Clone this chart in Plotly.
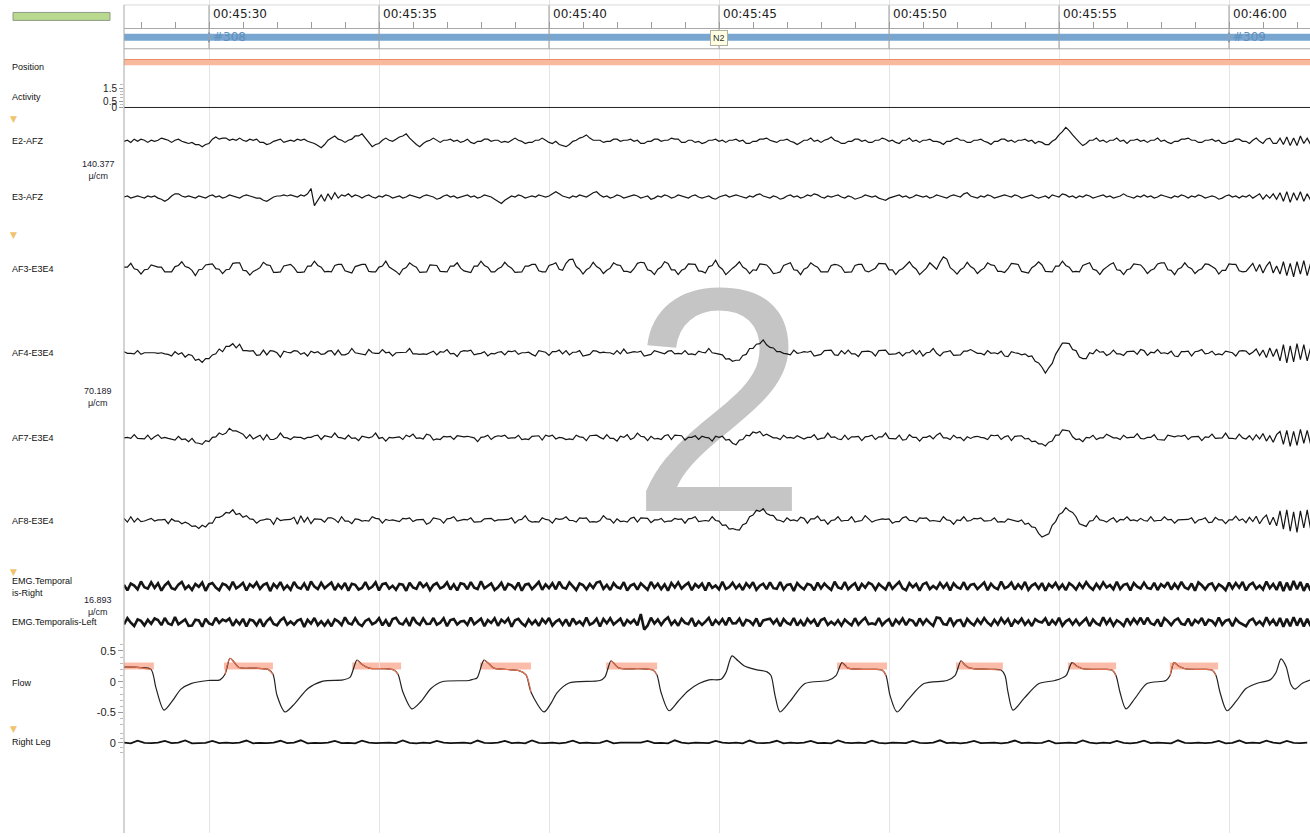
import plotly.graph_objects as go

# ---------------- geometry / scales ----------------
W, H = 1310, 837
LEFT = 124
PX_PER_SEC = 34.0
T0 = 27.5                                  # seconds after 00:45:00 at left edge
T1 = T0 + (W - LEFT) / PX_PER_SEC
PX_PER_CM = 37.8

# ---------------- data ----------------
MAJOR_TICKS = [30, 35, 40, 45, 50, 55, 60]
MINOR_TICKS = list(range(28, 63))

EPOCH_START = [0, 30, 60]
EPOCH_NUM = [307, 308, 309]
EPOCH_STAGE = ["N2", "N2", "N2"]
EPOCH_LEN = 30

POSITION_START = [0]
POSITION_END = [90]

ACTIVITY_T = [27.5, 32.5, 37.5, 42.5, 47.5, 52.5, 57.5, 62.5]
ACTIVITY = [0.0, 0.0, 0.0, 0.0, 0.0, 0.0, 0.0, 0.0]

EEG_DT = 0.1
SCALE_FRONTAL = 140.377   # µV/cm
SCALE_AF = 70.189
SCALE_EMG = 16.893

E2_AFZ = [0, 4, -4, 8, 0, 8, 4, -4, 4, 0,
          4, 12, 8, 4, -4, 4, 8, 0, -4, -8,
          -4, -12, -12, -20, -12, -8, 8, 16, 8, 12,
          12, 4, 8, 4, 12, 4, 0, 8, 4, 8,
          -4, -4, -12, -8, 0, 4, 8, -4, 0, 4,
          0, 8, 4, 8, 0, -4, -8, -16, -24, -12,
          4, 12, 20, 8, 4, -4, 4, 8, 20, 20,
          28, 12, -4, -20, -12, -8, 4, 12, 4, 0,
          8, 16, 20, 28, 12, 0, -12, -20, -8, 0,
          4, 12, 4, -4, 4, 4, 8, 0, 4, -4,
          0, 8, -4, -8, 0, 0, 8, 8, 0, 4,
          4, -4, 0, -4, 4, 12, 4, 0, -8, -4,
          -4, 4, 4, 12, 4, -4, -8, 0, -12, -16,
          -20, -12, 0, 4, 12, 16, 24, 12, 4, 4,
          4, -4, 0, 0, 8, 8, 0, 4, 4, 8,
          0, 4, -8, -8, 0, 0, 8, 8, 0, 4,
          4, 12, 8, 8, -4, -4, 4, 4, -4, 0,
          -8, -4, 4, 4, 8, 0, 4, -4, 4, 4,
          8, 0, 4, -8, -8, 0, 0, 8, 8, 12,
          4, 0, -4, 4, 4, 8, 0, -4, -12, -4,
          4, 4, 12, 0, 4, -4, 4, 8, 16, 4,
          0, -8, -8, 0, 0, 8, 8, 0, 4, -4,
          -4, 4, 4, 12, 8, 0, 4, -4, -8, 4,
          4, 12, 0, 4, -4, 4, 4, 8, 0, 0,
          -4, -12, 0, 0, 8, 12, 4, 4, -4, -4,
          4, 4, 8, 0, -4, -12, 0, 0, 8, 8,
          0, 4, -4, 4, 4, 8, 0, 4, -8, 0,
          -4, -12, -12, 0, 8, 24, 36, 52, 40, 24,
          8, -4, -16, -8, 4, 4, 12, 0, 4, -4,
          4, 4, 12, 0, 4, -8, 4, 4, 8, 0,
          4, -4, 4, 4, 12, 0, 4, -4, -8, 0,
          0, 8, 8, 12, 4, 4, -4, -4, 4, 4,
          8, 0, 4, -8, -8, 0, 0, 8, 8, 0,
          0, -8, 4, 12, 0, -8, 8, 12, -8, -8,
          12, -12, 16, -16, 12, -16, 20, -8, 12, -12]

E3_AFZ = [0, 4, -4, 0, 4, 0, -4, 4, 0, 4,
          -4, -8, -16, -8, 4, 12, 12, 4, 0, 4,
          0, -4, 4, 0, -4, 4, 8, 0, 4, -4,
          0, 8, 4, 0, -4, 4, 8, 4, 0, -4,
          -4, -12, -16, -8, 0, 4, 4, 8, 4, 8,
          4, 0, 8, 4, 12, 32, -32, -12, 8, -16,
          12, -8, 16, -4, 8, 4, 12, 0, 8, 4,
          -4, 4, 8, 0, -4, 4, 0, 8, 4, -4,
          0, 4, -4, 0, 8, 4, 0, -4, 4, 8,
          4, 0, -8, -4, 4, 8, 0, 4, -4, 0,
          4, 8, 0, 4, -4, 0, 8, 4, 0, -8,
          -16, -24, -12, -4, 4, 0, 8, 4, -4, 0,
          4, 0, 8, 4, 0, 4, 12, 20, 12, 4,
          0, -4, 4, 0, 8, 4, 0, 8, 16, 20,
          8, 0, 4, -4, 0, 8, 4, -4, 0, 4,
          8, 4, -4, 0, 4, -8, -4, 4, 0, 8,
          4, -4, 0, 8, 4, 0, -4, 4, 8, 0,
          -4, 0, 4, -4, -8, 0, 4, 8, 0, 4,
          8, 4, 0, -4, 4, 0, 8, 12, 4, 0,
          -4, 4, 0, -8, -4, 4, 8, 0, 4, -4,
          0, 8, 4, 12, 8, 0, -4, 4, 0, 4,
          8, 0, -4, 4, 0, -8, -4, 0, 8, 4,
          0, 4, -4, -8, -12, -4, 0, 4, 8, 0,
          4, -4, 0, 8, 4, 0, 4, -4, 0, 8,
          4, 0, -4, 4, 8, 4, 0, 12, 16, 4,
          0, -4, 4, 0, 8, 4, -4, 0, 4, 8,
          4, 0, 8, 4, -4, 0, 4, 8, 0, -4,
          0, 4, -4, 8, 4, 0, 12, 8, 0, 4,
          -4, 4, 0, 8, 4, -4, 0, 4, 8, 0,
          4, -4, 0, 4, 12, 4, 0, -4, 4, 0,
          8, 0, 4, -4, 0, 8, 4, 0, -4, 4,
          0, 8, 4, -4, 4, 0, 8, 4, -4, 0,
          4, 0, -8, -4, 4, 8, 0, 4, -4, 4,
          0, 8, -4, 4, 12, -8, 8, -4, 12, -8,
          16, -16, 20, -20, 16, -12, 20, -16, 12, -12]

AF3_E3E4 = [3, 3, 10, 0, -2, -10, -2, -1, 7, 5,
            3, 3, -6, -6, -6, 4, 6, 13, 4, 2,
            -3, -13, -2, -1, 7, 8, 9, 0, -1, -9,
            -2, -1, 10, 11, 11, -3, -4, -12, -5, -2,
            2, 12, 7, 6, -7, -7, -6, 5, 6, 8,
            2, -7, -7, -6, 5, 5, 14, 6, 3, -6,
            -5, -6, 6, 8, 8, -4, -6, -8, 4, 6,
            8, 8, -5, -6, -6, 3, 5, 14, 3, -1,
            -5, -11, -1, 2, 11, 6, 3, -7, -6, -6,
            7, 7, 6, -5, -5, -6, 5, 5, 11, 1,
            -4, -5, -7, 5, 5, 14, 6, 3, -6, -6,
            0, 3, 12, 5, 1, -7, -7, -6, 5, 5,
            8, 8, -4, -6, -6, 6, 8, 11, -1, -3,
            10, 17, 18, 4, -1, -10, -2, 2, 12, 4,
            0, -9, -3, 1, 11, 7, 6, -5, -5, -7,
            0, 10, 12, 11, -2, -4, -11, -1, 3, 13,
            10, -2, -2, -11, -3, 0, 9, 8, 8, -4,
            -5, -8, 4, 6, 16, 4, -1, -11, -4, 1,
            6, 13, 3, -1, -9, -2, -3, 9, 8, 7,
            0, -9, -8, -6, 6, 8, 11, -2, -3, -11,
            -1, 2, 11, 6, 3, -6, -6, -6, 6, 8,
            7, 3, -7, -6, -6, 6, 8, 8, -4, -6,
            -2, 1, 10, 10, 9, -2, -2, -11, -3, 0,
            6, 13, 4, -1, -11, -4, 1, 11, 4, -1,
            12, 22, 18, 2, -3, -10, -2, 2, 12, 4,
            0, -9, -3, 1, 11, 7, 6, -5, -5, -7,
            0, 10, 9, 8, -5, -7, -8, 2, 6, 13,
            7, -5, -5, -6, 5, 5, 14, 6, 3, -6,
            -5, -6, 6, 8, 11, -1, -3, -11, -2, 3,
            8, 11, -2, -3, -11, -2, 0, 9, 8, 7,
            0, -9, -3, 0, 9, 11, 11, -2, -3, -11,
            -1, 2, 11, 3, 0, -9, -3, 0, 9, 8,
            4, 0, -10, -3, -3, 9, 8, 8, -4, -6,
            -5, 3, 10, -5, 8, -8, 5, 13, -8, 5,
            -10, 13, -13, 10, -15, 13, -10, 15, -13, 10]

AF4_E3E4 = [3, 0, 0, -1, 5, -2, 1, 1, 2, 1,
            0, 1, -1, -2, -5, 3, -2, 1, -7, -2,
            -4, -13, -11, -17, -10, -10, -3, -1, 8, 3,
            13, 13, 18, 10, 17, 5, 5, 4, 5, -4,
            -3, 6, -3, 5, 4, 1, -7, 4, 2, 1,
            5, 4, -2, 1, -5, 4, 1, 3, -2, -1,
            4, 5, -3, 6, -3, -3, 0, 9, 1, 0,
            -2, -3, 7, 1, 0, 0, 7, 1, 2, -5,
            1, 1, 2, 2, 9, -1, -1, -2, -1, -2,
            1, 4, -3, 3, 2, 7, -1, 0, -6, 3,
            5, 4, 6, -3, -1, 0, 3, -5, 0, -1,
            2, 3, -3, 4, 3, 5, -2, 1, 1, 2,
            -2, -5, 5, 3, 2, -4, 3, 3, 6, -1,
            5, -3, 2, 2, 5, -5, -3, -2, 5, 4,
            1, 2, 1, 1, -2, 5, -1, 8, 0, 1,
            3, 2, 4, -5, -3, -2, 5, 3, 2, -1,
            4, 5, -1, 0, -1, 5, -2, -1, -3, 4,
            2, 1, 9, 1, 0, -2, -3, -11, -10, -15,
            -13, -13, -4, -2, 9, 9, 17, 18, 25, 16,
            11, 10, 3, 3, 0, -1, -3, 6, 0, 1,
            3, 2, 4, -5, -3, -2, 5, 5, 6, -3,
            -4, 5, -1, 6, -1, -1, -6, 3, 3, 4,
            2, -5, 5, 5, 6, -2, -1, -1, 2, -5,
            1, 1, 6, -2, 5, -5, 1, 2, 9, 0,
            -5, 2, 3, 5, -4, -3, -3, 4, 4, 7,
            3, 0, 0, -3, 5, 0, 1, -1, 4, -5,
            -6, 3, 1, 0, -3, -1, -6, -5, -15, -18,
            -26, -37, -27, -19, -2, 8, 19, 19, 18, 7,
            5, -7, -10, -10, 1, -1, 7, 2, 3, -4,
            -1, 6, -1, -1, -4, 3, 3, 4, -2, 7,
            5, -4, 2, 1, 7, 0, 1, -1, 4, -5,
            -6, 3, 3, 4, -5, 3, 4, 7, -1, 0,
            4, -3, -1, -3, 4, 2, 1, -5, 4, 5,
            4, -2, 2, 8, -4, 6, -8, 10, -6, 8,
            -14, 16, -18, 14, -16, 18, -12, 16, -14, 10]

AF7_E3E4 = [0, 1, -1, 6, -1, -1, -2, 5, -3, 2,
            6, -1, 1, -1, -2, -4, 3, -3, -2, -7,
            -1, -9, -10, -12, -5, -7, 1, 2, 9, 6,
            9, 18, 13, 13, 10, 7, -1, 6, -2, 1,
            5, -4, 6, -3, -3, 0, 9, 1, 0, -3,
            2, 1, 1, -2, 1, 1, 4, 5, -3, 4,
            2, 1, 9, 1, 0, -2, 5, -1, 0, -5,
            3, 1, 0, 2, 9, -1, 1, -6, 1, 0,
            1, 2, -3, 5, 2, 7, -1, 0, -2, 7,
            5, -4, -2, -3, 3, 2, 3, -3, 4, 3,
            2, 3, 1, 0, -7, 1, 2, 5, -3, 2,
            4, 3, 5, -1, 0, 0, 5, -3, -2, -3,
            3, 3, 4, -4, 5, 3, 5, -2, 1, 0,
            -3, -2, -3, 5, 2, 1, -5, 4, 4, 5,
            1, -2, 6, -1, -1, -6, 3, 1, 6, -3,
            0, 9, 3, 2, -5, 3, -2, -1, -3, 4,
            6, -3, 5, 5, 4, -4, 1, 1, 4, -3,
            3, 1, 0, -6, 3, 1, 3, -4, -3, -10,
            -13, -4, -3, 5, 4, 11, 9, 12, 4, 7,
            3, 0, 0, -3, 5, 0, 1, -1, 4, 1,
            -2, 1, 1, 6, -3, -1, 0, 9, 1, 2,
            -2, -3, 5, -3, 2, 2, 3, -5, 2, 3,
            5, -3, 2, 2, 9, -1, -1, -2, 5, -4,
            -3, 6, 1, 1, -6, 1, 1, 4, -2, 5,
            9, 0, 0, -3, 5, 0, 1, -5, 2, -1,
            2, 3, 1, 0, -3, 5, 4, 5, -3, 2,
            4, -5, 3, 3, 4, -2, -1, -7, -6, -11,
            -11, -15, -8, -6, 5, 5, 15, 14, 13, 2,
            -3, -2, -7, 1, 0, 5, -3, 0, 0, 7,
            3, 0, 0, -3, 5, 0, 1, 1, 8, -1,
            -2, 1, 1, 6, -3, -3, -4, 5, 3, 2,
            4, 3, 5, -3, 2, 2, 3, -5, 2, 1,
            7, -1, 0, 0, 9, -1, -1, -2, 7, 0,
            -2, 4, -4, 6, -2, 8, -6, 4, -8, 6,
            12, -12, 14, -16, 12, -14, 16, -10, 14, -12]

AF8_E3E4 = [4, -3, 7, -3, 4, -2, -1, 1, 4, -1,
            1, 1, 2, -6, 3, -1, -1, -6, -3, -6,
            -11, -10, -15, -9, -12, -5, -5, 6, 6, 9,
            15, 14, 20, 11, 13, 6, 9, 3, 2, -5,
            0, 1, 3, 2, -7, 5, 0, 1, 1, 2,
            6, -7, 9, -3, 6, -6, 3, 3, 2, -3,
            5, 5, 2, -4, 7, -1, -1, -6, 3, 2,
            -1, 0, -1, 7, 4, 3, -5, 2, 0, 1,
            -1, -2, 4, 3, 5, -2, 1, 1, 2, -7,
            -4, 5, 3, 2, -5, 3, 4, 7, -1, 0,
            2, 1, 5, -3, -2, -2, 3, 3, 4, -1,
            1, 1, 2, 2, 5, -5, 1, 2, 9, 0,
            -3, -2, -3, 5, 2, 1, -5, 4, 2, 3,
            7, 0, 0, -3, 5, 4, 5, -3, -2, -3,
            0, 9, 3, 2, -5, 3, -2, -1, -3, 4,
            6, -3, 5, 5, 4, -4, 1, 1, 4, -3,
            -1, -1, 4, 2, 3, -5, 3, 4, 7, -2,
            -1, 0, -1, 7, 0, -1, -9, -8, -16, -15,
            -17, -18, -8, -5, 7, 10, 19, 17, 22, 13,
            10, 9, 1, 0, -3, 5, 0, 1, -1, 6,
            4, -5, 3, 3, 8, 0, 1, -7, 0, 1,
            7, -1, 0, 0, 7, -3, -1, 0, 9, 2,
            -3, 0, 1, 3, 2, 3, -5, -2, -2, 5,
            7, 0, 0, -3, 5, 4, 5, -1, 0, -1,
            -2, 7, 1, 0, -7, 1, 0, 7, -1, 0,
            4, 3, 5, -1, 0, 0, 5, -3, -2, -3,
            3, 1, 0, -2, 1, -7, -5, -12, -13, -24,
            -31, -28, -25, -9, -2, 11, 15, 24, 18, 15,
            7, -6, -8, -11, -1, 0, 9, 1, 0, -3,
            2, 5, -3, 2, 1, 7, 0, 1, -1, 4,
            0, -1, 7, -1, 0, 0, 7, 1, 2, -5,
            1, 1, 2, 2, 5, -5, 1, 2, 5, -4,
            -3, 6, 1, 1, -6, 1, 1, 8, 0, 3,
            -4, 6, -2, 8, -6, 4, 10, -8, 6, -10,
            18, -16, 20, -20, 16, -22, 18, -14, 20, -16]

EMG_DT = 0.1
EMG_RIGHT = [0.6, -1.9, 1.2, 0.3, -1.4, 2.1, -0.5, -1.1, 1.7, -0.8,
             1.3, -2.0, 0.4, 1.8, -0.9, -1.5, 0.7, 1.9, -1.2, 0.2,
             -1.7, 1.0, -0.3, 1.6, -2.1, 0.8, 1.4, -0.6, -1.8, 1.1,
             0.5, -1.3, 2.0, -1.0, 0.1, 1.5, -1.9, 0.9, -0.4, 1.7,
             -1.2, 0.6, 1.3, -2.2, 1.0, -0.7, 1.8, -1.4, 0.3, -1.6,
             1.9, -0.5, -1.1, 1.2, -1.8, 2.1, -0.2, -1.3, 1.5, -0.9,
             0.4, 1.6, -1.7, 0.8, -1.0, 1.4, -2.0, 1.1, 0.6, -1.5,
             -0.8, 1.8, -1.2, -0.3, 1.7, -1.9, 0.9, 1.3, -1.1, 0.2,
             -1.6, 1.0, 0.7, -2.1, 1.5, -0.6, -1.2, 1.9, -0.4, 1.1,
             -1.8, 0.5, 1.4, -1.0, -0.2, 1.7, -1.5, 0.8, -1.9, 1.3,
             0.9, -1.4, 1.8, -0.7, -1.3, 2.2, -1.0, 0.3, 1.2, -1.7,
             -0.5, 1.5, -1.8, 1.0, 0.4, -1.2, 1.6, -2.0, 0.7, 1.1,
             -1.3, 0.2, 1.9, -1.6, 0.8, -0.9, 1.3, -1.4, 2.0, -0.6,
             -1.1, 1.7, -0.3, -1.8, 1.2, 0.5, -1.5, 1.0, -0.8, 1.6,
             2.1, -1.2, 0.6, -1.7, 1.4, -0.4, -1.0, 1.8, -1.9, 0.3,
             1.0, -1.5, 1.3, -0.2, -1.6, 1.9, -0.7, 1.1, -1.3, 0.8,
             -2.0, 1.4, -0.6, 1.7, -1.1, 0.4, 1.5, -1.8, 0.9, -0.5,
             1.2, -1.9, 1.6, -0.8, 0.3, -1.4, 2.0, -1.2, -0.4, 1.5,
             -1.0, 0.7, -1.7, 1.3, -0.5, 1.8, -1.6, 0.2, 1.1, -1.3,
             1.7, -0.9, -1.2, 1.9, -1.5, 0.6, 0.9, -2.1, 1.4, -0.3,
             -1.4, 1.1, 0.5, -1.8, 1.6, -1.0, 1.2, -0.4, -1.7, 2.0,
             -0.6, -1.1, 1.8, -1.4, 0.2, 1.3, -1.9, 1.0, -0.7, 1.6,
             0.8, -1.6, 1.1, -0.3, -1.5, 1.7, -1.2, 0.5, 1.9, -1.0,
             -1.8, 1.4, -0.5, 1.0, -2.0, 0.9, 1.6, -1.3, 0.1, -1.2,
             1.5, -0.7, 1.2, -1.9, 1.3, -0.4, -1.1, 1.8, -1.6, 0.6,
             1.0, -1.3, 0.4, 1.7, -1.8, 1.1, -0.6, -1.4, 2.1, -0.9,
             -0.2, 1.6, -1.5, 0.8, -1.0, 1.9, -1.7, 0.3, 1.2, -1.1,
             1.4, -2.0, 0.9, -0.5, 1.5, -1.2, 0.7, -1.8, 1.3, 0.2,
             -1.5, 1.2, -0.8, 1.8, -0.3, -1.6, 1.0, -1.1, 1.7, -0.6,
             0.5, -1.4, 2.0, -1.3, 0.6, 1.1, -1.9, 1.4, -0.2, -1.0,
             1.6, -0.8, -1.2, 1.5, -1.7, 0.9, -0.4, 1.8, -1.5, 1.0,
             -1.1, 1.9, -0.6, -1.3, 1.2, -2.0, 1.7, 0.4, -1.4, 0.7,
             1.3, -1.6, 0.8, -0.2, -1.8, 1.6, -1.0, 1.4, -0.7, 1.9,
             -1.9, 0.6, 1.5, -1.1, 0.3, -1.5, 2.1, -0.9, 1.0, -1.7,
             2.0, -2.2, 1.6, -1.8, 2.3, -1.4, 1.9, -2.1, 1.2, -2.0]

EMG_LEFT = [-1.1, 1.7, -0.3, -1.8, 1.2, 0.5, -1.5, 1.0, -0.8, 1.6,
            0.9, -1.4, 1.8, -0.7, -1.3, 2.2, -1.0, 0.3, 1.2, -1.7,
            -1.6, 1.0, 0.7, -2.1, 1.5, -0.6, -1.2, 1.9, -0.4, 1.1,
            0.4, 1.6, -1.7, 0.8, -1.0, 1.4, -2.0, 1.1, 0.6, -1.5,
            1.3, -2.0, 0.4, 1.8, -0.9, -1.5, 0.7, 1.9, -1.2, 0.2,
            -1.2, 0.6, 1.3, -2.2, 1.0, -0.7, 1.8, -1.4, 0.3, -1.6,
            0.6, -1.9, 1.2, 0.3, -1.4, 2.1, -0.5, -1.1, 1.7, -0.8,
            -1.8, 0.5, 1.4, -1.0, -0.2, 1.7, -1.5, 0.8, -1.9, 1.3,
            1.9, -0.5, -1.1, 1.2, -1.8, 2.1, -0.2, -1.3, 1.5, -0.9,
            -0.8, 1.8, -1.2, -0.3, 1.7, -1.9, 0.9, 1.3, -1.1, 0.2,
            0.5, -1.3, 2.0, -1.0, 0.1, 1.5, -1.9, 0.9, -0.4, 1.7,
            -1.7, 1.0, -0.3, 1.6, -2.1, 0.8, 1.4, -0.6, -1.8, 1.1,
            -1.0, 0.7, -1.7, 1.3, -0.5, 1.8, -1.6, 0.2, 1.1, -1.3,
            1.2, -1.9, 1.6, -0.8, 0.3, -1.4, 2.0, -1.2, -0.4, 1.5,
            -2.0, 1.4, -0.6, 1.7, -1.1, 0.4, 1.5, -1.8, 0.9, -0.5,
            1.0, -1.5, 3.6, -3.4, -1.6, 1.9, -0.7, 1.1, -1.3, 0.8,
            2.1, -1.2, 0.6, -1.7, 1.4, -0.4, -1.0, 1.8, -1.9, 0.3,
            -1.3, 0.2, 1.9, -1.6, 0.8, -0.9, 1.3, -1.4, 2.0, -0.6,
            -0.5, 1.5, -1.8, 1.0, 0.4, -1.2, 1.6, -2.0, 0.7, 1.1,
            1.5, -0.7, 1.2, -1.9, 1.3, -0.4, -1.1, 1.8, -1.6, 0.6,
            -1.8, 1.4, -0.5, 1.0, -2.0, 0.9, 1.6, -1.3, 0.1, -1.2,
            0.8, -1.6, 1.1, -0.3, -1.5, 1.7, -1.2, 0.5, 1.9, -1.0,
            -0.6, -1.1, 1.8, -1.4, 0.2, 1.3, -1.9, 1.0, -0.7, 1.6,
            -1.4, 1.1, 0.5, -1.8, 1.6, -1.0, 1.2, -0.4, -1.7, 2.0,
            1.7, -0.9, -1.2, 1.9, -1.5, 0.6, 0.9, -2.1, 1.4, -0.3,
            -1.5, 1.2, -0.8, 1.8, -0.3, -1.6, 1.0, -1.1, 1.7, -0.6,
            1.4, -2.0, 0.9, -0.5, 1.5, -1.2, 0.7, -1.8, 1.3, 0.2,
            -0.2, 1.6, -1.5, 0.8, -1.0, 1.9, -1.7, 0.3, 1.2, -1.1,
            1.0, -1.3, 0.4, 1.7, -1.8, 1.1, -0.6, -1.4, 2.1, -0.9,
            1.3, -1.6, 0.8, -0.2, -1.8, 1.6, -1.0, 1.4, -0.7, 1.9,
            -1.1, 1.9, -0.6, -1.3, 1.2, -2.0, 1.7, 0.4, -1.4, 0.7,
            1.6, -0.8, -1.2, 1.5, -1.7, 0.9, -0.4, 1.8, -1.5, 1.0,
            0.5, -1.4, 2.0, -1.3, 0.6, 1.1, -1.9, 1.4, -0.2, -1.0,
            -1.9, 0.6, 1.5, -1.1, 0.3, -1.5, 2.1, -0.9, 1.0, -1.7,
            1.8, -2.1, 1.5, -1.9, 2.2, -1.6, 1.7, -2.0, 1.4, -1.9]

LEG_DT = 0.2
RIGHT_LEG = [0.02, -0.03, 0.20, 0.01, -0.02, 0.03, 0.18, -0.02, 0.02, 0.22,
             -0.03, 0.02, 0.01, 0.17, -0.02, 0.03, -0.01, 0.02, 0.21, -0.03,
             0.01, -0.02, 0.03, 0.19, -0.01, 0.02, 0.23, -0.03, 0.01, -0.02,
             0.03, 0.18, -0.02, 0.01, -0.03, 0.20, 0.02, -0.01, 0.03, 0.02,
             -0.02, 0.22, 0.01, -0.03, 0.02, -0.01, 0.17, 0.03, -0.02, 0.01,
             0.02, -0.03, 0.21, 0.01, -0.02, 0.03, 0.18, -0.01, 0.02, -0.03,
             0.22, 0.01, -0.02, 0.03, -0.03, 0.02, 0.19, -0.01, 0.03, -0.02,
             0.01, 0.20, -0.03, 0.02, 0.03, -0.01, 0.02, 0.17, -0.02, 0.01,
             -0.03, 0.23, 0.02, -0.03, 0.03, 0.01, -0.02, 0.18, 0.03, -0.01,
             0.02, -0.03, 0.21, 0.01, -0.02, 0.03, 0.19, -0.03, 0.02, -0.01,
             0.03, 0.17, -0.02, 0.01, -0.03, 0.22, 0.02, -0.01, 0.03, -0.02,
             0.20, 0.01, -0.03, 0.03, 0.02, -0.02, 0.18, 0.01, -0.02, 0.03,
             0.23, -0.01, 0.02, -0.03, 0.03, 0.17, -0.02, 0.01, 0.03, -0.03,
             0.02, 0.21, -0.01, 0.03, -0.02, 0.01, 0.19, -0.03, 0.02, 0.03,
             -0.01, 0.22, 0.02, -0.03, 0.03, -0.02, 0.17, 0.01, -0.03, 0.02,
             0.20, -0.01, 0.03, 0.02, -0.03, 0.23, 0.01, -0.02, 0.03, -0.01,
             0.02, 0.18, -0.03, 0.01, 0.21, -0.02, 0.03, -0.01, 0.19, 0.02,
             -0.03, 0.17, 0.01, -0.02, 0.03]

# Flow (arbitrary units) sampled at the visible turning points
FLOW_T = [27.500, 27.971, 28.294, 28.441, 28.676, 28.912, 29.176, 29.471, 29.971, 30.324,
          30.471, 30.618, 30.735, 30.882, 31.353, 31.735, 31.882, 32.000, 32.235, 32.529,
          32.912, 33.353, 33.941, 34.147, 34.353, 34.500, 34.706, 35.176, 35.441, 35.559,
          35.706, 35.971, 36.235, 36.529, 36.853, 37.647, 37.765, 37.882, 38.088, 38.235,
          38.382, 39.118, 39.324, 39.471, 39.853, 40.059, 40.235, 40.588, 41.500, 41.647,
          41.824, 41.941, 42.059, 42.676, 43.059, 43.176, 43.294, 43.529, 43.794, 44.088,
          44.412, 44.706, 45.059, 45.206, 45.382, 45.559, 45.735, 46.059, 46.412, 46.529,
          46.647, 46.794, 47.088, 47.529, 48.206, 48.441, 48.618, 48.794, 49.441, 49.794,
          49.912, 50.029, 50.235, 50.559, 51.029, 51.706, 51.941, 52.118, 52.235, 52.382,
          52.971, 53.294, 53.412, 53.500, 53.647, 53.971, 54.412, 54.882, 55.206, 55.382,
          55.529, 55.706, 56.206, 56.559, 56.676, 56.794, 56.971, 57.235, 57.588, 58.147,
          58.265, 58.382, 58.529, 58.706, 59.147, 59.500, 59.618, 59.735, 59.941, 60.206,
          60.500, 60.853, 61.206, 61.382, 61.529, 61.676, 61.824, 61.941, 62.147, 62.412]
FLOW = [0.24, 0.23, 0.20, -0.10, -0.46, -0.32, -0.12, -0.03, 0.02, 0.03,
        0.12, 0.38, 0.32, 0.23, 0.22, 0.20, 0.12, -0.22, -0.49, -0.35,
        -0.11, 0.01, 0.03, 0.07, 0.35, 0.28, 0.22, 0.21, 0.19, 0.12,
        -0.17, -0.44, -0.32, -0.11, 0.00, 0.02, 0.04, 0.06, 0.35, 0.29,
        0.22, 0.18, 0.11, -0.17, -0.49, -0.35, -0.18, -0.02, 0.02, 0.08,
        0.34, 0.28, 0.22, 0.21, 0.19, 0.11, -0.17, -0.47, -0.32, -0.15,
        -0.03, 0.03, 0.04, 0.15, 0.42, 0.34, 0.26, 0.20, 0.16, 0.10,
        -0.22, -0.49, -0.32, -0.03, 0.02, 0.10, 0.31, 0.22, 0.20, 0.19,
        0.10, -0.22, -0.49, -0.29, -0.03, 0.02, 0.10, 0.34, 0.27, 0.22,
        0.20, 0.19, 0.10, -0.17, -0.46, -0.27, -0.03, 0.02, 0.10, 0.31,
        0.25, 0.21, 0.20, 0.19, 0.10, -0.17, -0.44, -0.27, -0.03, 0.02,
        0.10, 0.31, 0.25, 0.21, 0.20, 0.19, 0.10, -0.17, -0.47, -0.32,
        -0.11, -0.02, 0.03, 0.15, 0.37, 0.25, -0.05, -0.12, -0.03, 0.03]

# flow-limitation markers (start, end in seconds)
FLOW_MARK_START = [27.50, 30.44, 34.21, 37.97, 41.68, 48.47, 51.97, 55.26, 58.26]
FLOW_MARK_END = [28.38, 31.88, 35.65, 39.47, 43.18, 49.94, 53.35, 56.68, 59.68]
FLOW_MARK_LOW, FLOW_MARK_HIGH = 0.20, 0.31

# ---------------- channel layout (pixel rows) ----------------
CHANNELS = [
    ("E2-AFZ", E2_AFZ, SCALE_FRONTAL, 142, EEG_DT),
    ("E3-AFZ", E3_AFZ, SCALE_FRONTAL, 198, EEG_DT),
    ("AF3-E3E4", AF3_E3E4, SCALE_AF, 270, EEG_DT),
    ("AF4-E3E4", AF4_E3E4, SCALE_AF, 355, EEG_DT),
    ("AF7-E3E4", AF7_E3E4, SCALE_AF, 440, EEG_DT),
    ("AF8-E3E4", AF8_E3E4, SCALE_AF, 523, EEG_DT),
    ("EMG.Temporalis-Right", EMG_RIGHT, SCALE_EMG, 589, EMG_DT),
    ("EMG.Temporalis-Left", EMG_LEFT, SCALE_EMG, 625, EMG_DT),
]


def pyf(p):
    return 1 - p / H


def pxf(p):
    return (p - LEFT) / (W - LEFT)


def fmt_time(s):
    s = int(round(s))
    return "00:%02d:%02d" % (45 + s // 60, s % 60)


fig = go.Figure()

# watermark "2" first, so traces draw over it
fig.add_trace(go.Scatter(x=[T0 + (719 - LEFT) / PX_PER_SEC], y=[433], mode="text", text=["2"],
                         textposition="middle center",
                         textfont=dict(size=320, color="#c5c5c5", family="Liberation Sans"),
                         hoverinfo="skip", xaxis="x", yaxis="y"))

# EEG / EMG channels on pixel axis
for name, vals, scale, base, dt in CHANNELS:
    k = PX_PER_CM / scale
    ts = [T0 + i * dt for i in range(len(vals))]
    ys = [base - v * k for v in vals]
    lw = 2.6 if "EMG" in name else 1.2
    fig.add_trace(go.Scatter(x=ts, y=ys, mode="lines", line=dict(color="#151515", width=lw),
                             hoverinfo="skip", xaxis="x", yaxis="y"))

# epoch markers on hypnogram row
ep_in = [s for s in EPOCH_START if T0 <= s <= T1]
fig.add_trace(go.Scatter(x=ep_in, y=[37.5] * len(ep_in), mode="markers",
                         marker=dict(symbol="diamond-tall", size=8, color="#4f82b2"),
                         hoverinfo="skip", xaxis="x", yaxis="y"))

# activity
fig.add_trace(go.Scatter(x=ACTIVITY_T, y=ACTIVITY, mode="lines", line=dict(color="#222", width=1),
                         hoverinfo="skip", xaxis="x", yaxis="y3"))

# flow
fig.add_trace(go.Scatter(x=FLOW_T, y=FLOW, mode="lines",
                         line=dict(color="#222", width=1.2, shape="spline", smoothing=0.8),
                         hoverinfo="skip", xaxis="x", yaxis="y2"))
for s, e in zip(FLOW_MARK_START, FLOW_MARK_END):
    seg = [(t, v) for t, v in zip(FLOW_T, FLOW) if s - 0.02 <= t <= e + 0.02]
    if len(seg) >= 2:
        fig.add_trace(go.Scatter(x=[a for a, _ in seg], y=[b for _, b in seg], mode="lines",
                                 line=dict(color="#e5704d", width=1.2, shape="spline", smoothing=0.8),
                                 hoverinfo="skip", xaxis="x", yaxis="y2"))

# right leg
fig.add_trace(go.Scatter(x=[T0 + i * LEG_DT for i in range(len(RIGHT_LEG))], y=RIGHT_LEG, mode="lines",
                         line=dict(color="#111", width=1.8), hoverinfo="skip", xaxis="x", yaxis="y4"))

# dummy trace for header axis
fig.add_trace(go.Scatter(x=[T0], y=[0.5], mode="markers", marker=dict(opacity=0),
                         hoverinfo="skip", xaxis="x2", yaxis="y5"))

shapes = []
for s, e in zip(FLOW_MARK_START, FLOW_MARK_END):
    shapes.append(dict(type="rect", xref="x", yref="y2", x0=s, x1=e, y0=FLOW_MARK_LOW, y1=FLOW_MARK_HIGH,
                       fillcolor="#fbbcaa", line=dict(width=0), layer="below"))
for s, st in zip(EPOCH_START, EPOCH_STAGE):
    x0, x1 = max(s, T0), min(s + EPOCH_LEN, T1)
    if x1 > x0:
        shapes.append(dict(type="rect", xref="x", yref="paper", x0=x0, x1=x1, y0=pyf(41), y1=pyf(34),
                           fillcolor="#78a6d0", line=dict(width=0)))
for s, e in zip(POSITION_START, POSITION_END):
    shapes.append(dict(type="rect", xref="x", yref="paper", x0=max(s, T0), x1=min(e, T1),
                       y0=pyf(65.5), y1=pyf(59.5), fillcolor="#f9b99c", line=dict(width=0)))
    shapes.append(dict(type="line", xref="x", yref="paper", x0=max(s, T0), x1=min(e, T1),
                       y0=pyf(59.8), y1=pyf(59.8), line=dict(color="#ea8a66", width=1)))
for t in MAJOR_TICKS:
    shapes.append(dict(type="line", xref="x", yref="paper", x0=t, x1=t, y0=pyf(49), y1=pyf(5),
                       line=dict(color="#9c9c9c", width=1)))
shapes.append(dict(type="line", xref="paper", yref="paper", x0=0, x1=1, y0=pyf(49), y1=pyf(49),
                   line=dict(color="#a8a8a8", width=1)))
shapes.append(dict(type="line", xref="paper", yref="paper", x0=0, x1=1, y0=pyf(5), y1=pyf(5),
                   line=dict(color="#d8d8d8", width=1)))
shapes.append(dict(type="line", xref="paper", yref="paper", x0=0, x1=0, y0=0, y1=pyf(5),
                   line=dict(color="#a8a8a8", width=1)))
shapes.append(dict(type="rect", xref="paper", yref="paper", x0=pxf(13), x1=pxf(110), y0=pyf(20.5), y1=pyf(12.5),
                   fillcolor="#b8d98e", line=dict(color="#8f9c86", width=1)))

ann = []
for t in MAJOR_TICKS:
    ann.append(dict(xref="x", yref="paper", x=t, y=pyf(14), xanchor="left", yanchor="middle", xshift=2,
                    text=fmt_time(t), showarrow=False,
                    font=dict(family="DejaVu Sans", size=12, color="#222")))
for s, n in zip(EPOCH_START, EPOCH_NUM):
    if T0 <= s <= T1:
        ann.append(dict(xref="x", yref="paper", x=s, y=pyf(37), xanchor="left", yanchor="middle", xshift=2,
                        text="#%d" % n, showarrow=False,
                        font=dict(family="DejaVu Sans", size=12, color="#5f8fbd")))
for s, st in zip(EPOCH_START, EPOCH_STAGE):
    c = s + EPOCH_LEN / 2
    if T0 <= c <= T1:
        ann.append(dict(xref="x", yref="paper", x=c, y=pyf(38), xanchor="center", yanchor="middle",
                        text=st, showarrow=False, bgcolor="#ffffe3", bordercolor="#b0b0a0", borderwidth=1,
                        borderpad=2, font=dict(family="Liberation Sans", size=9, color="#333")))

LABEL_FONT = dict(family="Liberation Sans", size=9, color="#111")
left_labels = [("Position", 67), ("Activity", 97), ("E2-AFZ", 142), ("E3-AFZ", 198),
               ("AF3-E3E4", 270), ("AF4-E3E4", 355), ("AF7-E3E4", 440), ("AF8-E3E4", 523),
               ("EMG.Temporal<br>is-Right", 590), ("EMG.Temporalis-Left", 625),
               ("Flow", 686), ("Right Leg", 746)]
for txt, yy in left_labels:
    ann.append(dict(xref="paper", yref="paper", x=pxf(10), y=pyf(yy), xanchor="left", yanchor="middle",
                    text=txt, showarrow=False, align="left", font=LABEL_FONT))
for sc, yy in [(SCALE_FRONTAL, 171), (SCALE_AF, 399), (SCALE_EMG, 609)]:
    ann.append(dict(xref="paper", yref="paper", x=pxf(98), y=pyf(yy), xanchor="center", yanchor="middle",
                    text="%.3f<br>μ/cm" % sc, showarrow=False, align="center",
                    font=dict(family="Liberation Sans", size=9, color="#1c2430")))
for yy in [120, 236, 575, 733]:
    ann.append(dict(xref="paper", yref="paper", x=pxf(13), y=pyf(yy), xanchor="center", yanchor="middle",
                    text="▼", showarrow=False, font=dict(family="DejaVu Sans", size=9, color="#efc46e")))

TICKFONT = dict(family="Liberation Sans", size=11, color="#222")
ACT_TICKFONT = dict(family="Liberation Sans", size=10, color="#222")

fig.update_layout(
    width=W, height=H, margin=dict(l=LEFT, r=0, t=0, b=0),
    paper_bgcolor="white", plot_bgcolor="rgba(0,0,0,0)", showlegend=False,
    shapes=shapes, annotations=ann,
    xaxis=dict(range=[T0, T1], domain=[0, 1], anchor="y", tickmode="array", tickvals=MAJOR_TICKS,
               showticklabels=False, ticks="", showgrid=True, gridcolor="#e4e4e4", gridwidth=1,
               zeroline=False, showline=False, fixedrange=True),
    yaxis=dict(range=[H, 0], domain=[0, 1], visible=False, fixedrange=True),
    xaxis2=dict(matches="x", anchor="y5", side="bottom", tickmode="array", tickvals=MINOR_TICKS,
                ticks="inside", ticklen=6, tickcolor="#9c9c9c", showticklabels=False, showgrid=False,
                zeroline=False, showline=True, linecolor="#a8a8a8", linewidth=1),
    yaxis5=dict(domain=[pyf(28), pyf(5)], range=[0, 1], visible=False),
    yaxis2=dict(domain=[pyf(732), pyf(642)], range=[(685 - 732) / 62, (685 - 642) / 62], anchor="x",
                tickmode="array", tickvals=[-0.5, 0, 0.5], ticktext=["-0.5", "0", "0.5"],
                ticks="outside", ticklen=5, tickcolor="#999", tickfont=TICKFONT,
                minor=dict(dtick=0.1, tick0=0, ticks="outside", ticklen=3, tickcolor="#bbb"),
                showgrid=False, zeroline=False, showline=False),
    yaxis3=dict(domain=[pyf(110), pyf(83)], range=[(108 - 110) / 13, (108 - 83) / 13], anchor="x",
                tickmode="array", tickvals=[0, 0.5, 1.5], ticktext=["0", "0.5", "1.5"],
                ticks="outside", ticklen=4, tickcolor="#999", tickfont=ACT_TICKFONT,
                minor=dict(dtick=0.25, tick0=0, ticks="outside", ticklen=3, tickcolor="#bbb"),
                showgrid=False, zeroline=False, showline=False),
    yaxis4=dict(domain=[pyf(760), pyf(733)], range=[-(760 - 746.5) / 11.5, (746.5 - 733) / 11.5], anchor="x",
                tickmode="array", tickvals=[0], ticktext=["0"],
                ticks="outside", ticklen=5, tickcolor="#999", tickfont=TICKFONT,
                minor=dict(dtick=0.4, tick0=0, ticks="outside", ticklen=3, tickcolor="#bbb"),
                showgrid=False, zeroline=False, showline=False),
)

fig.write_html("out.html")
